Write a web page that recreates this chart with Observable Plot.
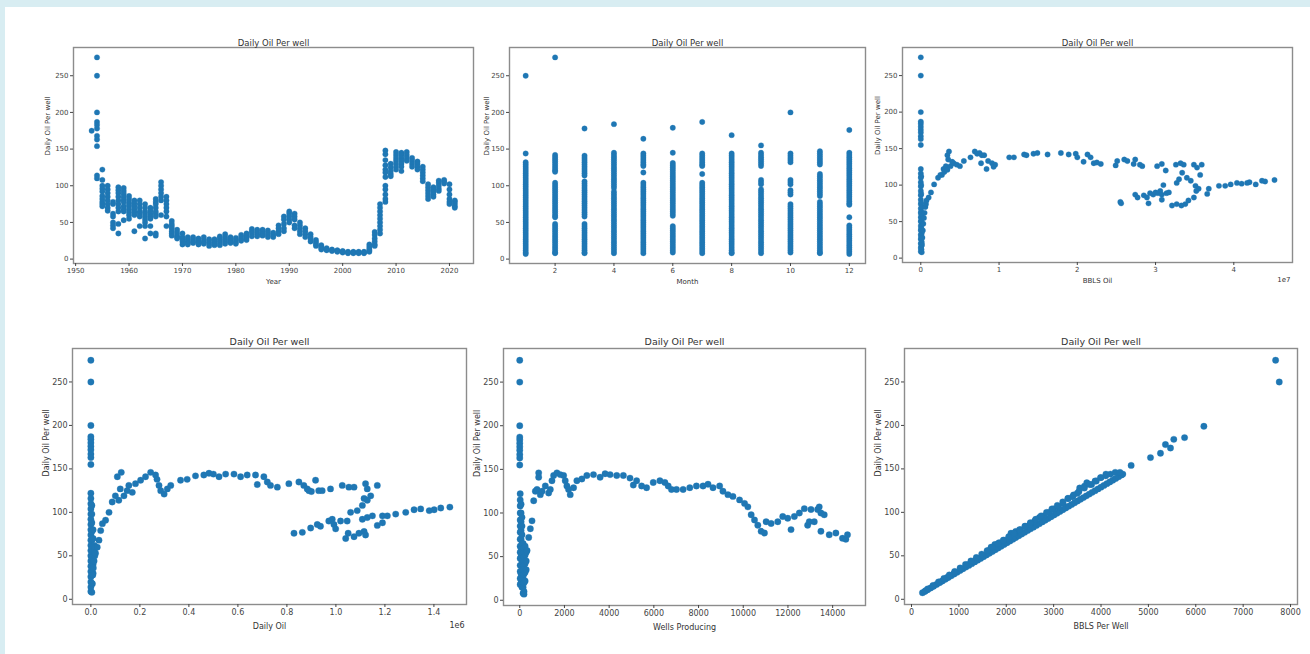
<!DOCTYPE html>
<html><head><meta charset="utf-8">
<script src="https://cdn.jsdelivr.net/npm/d3@7"></script>
<script src="https://cdn.jsdelivr.net/npm/@observablehq/plot@0.6"></script>
<style>
body{margin:0;background:#fff;width:1310px;height:654px;overflow:hidden;position:relative;font-family:"DejaVu Sans",sans-serif;}
#topbar{position:absolute;left:0;top:0;width:1310px;height:7px;background:#d8edf2;}
#leftbar{position:absolute;left:0;top:0;width:5px;height:654px;background:#d8edf2;}
</style></head><body>
<div id="topbar"></div><div id="leftbar"></div>
<script>
const TITLE = "Daily Oil Per well";
const Y_LABEL = "Daily Oil Per well";
const yTicks = [0, 50, 100, 150, 200, 250];

// Panel 1: Year vs daily oil per well
const p1Years = [1953,1954,1955,1956,1957,1958,1959,1960,1961,1962,1963,1964,1965,1966,1967,1968,1969,1970,1971,1972,1973,1974,1975,1976,1977,1978,1979,1980,1981,1982,1983,1984,1985,1986,1987,1988,1989,1990,1991,1992,1993,1994,1995,1996,1997,1998,1999,2000,2001,2002,2003,2004,2005,2006,2007,2008,2009,2010,2011,2012,2013,2014,2015,2016,2017,2018,2019,2020,2021];
const p1Values = [
 [175],
 [275,250,200,187,183,178,168,163,154,114,110],
 [122,108,100,96,92,86,82,78,75,72],
 [100,95,90,85,80,75,70,66],
 [78,75,62,58,50,46,42],
 [98,94,90,85,80,75,70,65,48,35],
 [97,93,89,85,81,78,72,68,65,53],
 [86,82,78,75,72,68,64,60,55],
 [80,76,72,68,64,60,38],
 [80,75,70,65,62,58,45],
 [75,70,65,62,58,54,50,45,28],
 [70,66,62,58,55,45,35],
 [82,78,75,70,65,62,58,35,32],
 [105,100,95,90,85,80,60],
 [85,80,75,70,65,58,45],
 [52,48,45,42,38,35,32],
 [40,36,32,30,28],
 [35,30,27,24,20],
 [30,27,24,22,20],
 [30,27,24,22],
 [28,25,22,20],
 [30,26,23,21],
 [27,24,21,18],
 [27,24,21,19],
 [31,28,25,22,19],
 [34,30,27,24,21],
 [30,27,24,22],
 [29,26,23,21],
 [33,30,27,25],
 [35,32,29,26],
 [41,38,35,31],
 [40,37,34,31],
 [40,37,34,32],
 [39,36,33,30],
 [36,33,30],
 [46,42,38,34],
 [58,54,48,42,38],
 [65,62,58,54,50],
 [62,58,54,46,42],
 [50,46,42,38,34],
 [42,38,34,30],
 [34,30,27,24],
 [26,23,20,18],
 [19,17,15,13],
 [15,13,12],
 [13,12,11],
 [12,11,10],
 [11,10,9],
 [10,9,8],
 [10,9,8],
 [10,9,8],
 [10,9,8],
 [20,17,14,12,10],
 [37,33,28,24,20,18],
 [75,70,65,60,55,50,45,40,35],
 [148,143,135,128,122,118,112,100,95,88,82,78],
 [130,125,120,116,113],
 [146,142,138,134,130,126,122],
 [145,142,138,134,130,126,120],
 [146,142,138,134],
 [138,134,130,126],
 [133,130,126,122],
 [126,122,118,114,110,106],
 [102,98,94,90,86,82],
 [98,95,92,88,85],
 [107,104,100,96,93],
 [108,106,103],
 [102,95,88,82,78,75],
 [80,78,75,72,70]
];

// Panel 2: Month vs daily oil per well
const p2Months = [1,2,3,4,5,6,7,8,9,10,11,12];
const p2Values = [
 [250,144,132,129,126,123,120,117,114,111,108,105,102,99,96,93,90,87,84,81,78,75,72,69,66,63,60,57,54,51,48,45,42,39,36,33,30,27,24,21,18,15,12,9,7],
 [275,142,139,136,133,130,127,124,121,119,104,101,98,95,92,89,86,83,80,77,74,71,68,65,62,59,57,48,45,42,39,36,33,30,27,24,21,18,15,12,9,8],
 [178,141,138,135,132,129,126,123,120,117,114,106,103,100,97,94,91,88,85,82,79,76,73,70,67,64,61,58,48,45,42,39,36,33,30,27,24,21,18,15,12,9,8],
 [184,145,142,139,136,133,130,127,124,121,118,115,112,109,106,103,100,97,92,89,86,83,80,77,74,71,68,65,62,59,56,53,50,47,44,41,38,35,32,29,26,23,20,17,14,11,8],
 [164,144,141,138,135,132,129,127,118,104,101,98,95,92,89,86,83,80,77,74,71,68,65,62,59,56,53,50,47,44,41,38,35,32,29,26,23,20,17,14,11,8],
 [179,145,131,128,125,122,119,116,113,110,107,104,101,98,95,92,89,86,83,80,77,74,71,68,65,62,59,45,42,39,36,33,30,27,24,21,18,15,12,9],
 [187,144,141,138,135,132,129,127,116,104,101,98,95,92,89,86,83,80,77,74,71,68,65,62,59,56,53,50,47,44,41,38,35,32,29,26,23,20,17,14,11,8],
 [169,144,141,138,135,132,129,126,123,120,117,114,111,108,105,102,99,96,93,90,87,84,81,78,75,72,69,66,63,60,57,54,51,48,45,42,39,36,33,30,27,24,21,18,15,12,9,8],
 [155,145,142,139,136,133,130,127,108,105,102,95,92,89,86,83,80,77,74,71,68,65,62,59,56,53,50,47,44,41,38,35,32,29,26,23,20,17,14,11,8],
 [200,144,141,138,135,132,108,105,102,94,91,88,75,72,69,66,63,60,57,54,51,48,45,42,39,36,33,30,27,24,21,18,15,12,9],
 [147,144,141,138,135,132,129,116,113,110,107,104,101,98,95,92,89,86,78,75,72,69,66,63,60,57,54,51,48,45,42,39,36,33,30,27,24,21,18,15,12,9,8],
 [176,145,142,139,136,133,130,127,124,121,118,115,112,109,106,103,100,97,94,91,88,85,82,79,76,74,57,46,43,40,37,34,31,28,25,22,19,16,13,10,7]
];

// Panel 3: BBLS Oil (x1e7) vs daily oil per well
const p3Points = [
 [0,275],[0,250],[0,200],[0,187],[0,184],[0,180],[0,176],[0,172],[0,167],[0,163],[0,155],
 [0,122],[0,116],[0,110],[0,104],[0,98],[0,92],[0,86],[0,80],[0,74],[0,68],[0,62],[0,56],[0,50],[0,44],[0,38],[0,32],[0,26],[0,20],[0,14],[0,9],
 [0.005,112],[0.005,100],[0.005,88],[0.005,76],[0.005,64],[0.005,52],[0.005,40],[0.005,28],[0.005,16],[0.012,70],[0.012,58],[0.012,46],[0.012,34],[0.012,22],
 [0.008,60],[0.008,50],[0.008,40],[0.008,30],[0.008,20],[0.008,12],[0.012,8],[0.015,18],[0.02,28],[0.026,38],[0.032,47],[0.04,55],[0.048,62],[0.058,70],[0.066,74],
 [0.073,79],[0.1,83],[0.13,90],[0.17,101],[0.22,110],[0.25,114],[0.29,122],[0.32,126],[0.35,135],[0.36,146],[0.34,141],[0.27,114],[0.3,118],[0.34,121],[0.38,126],[0.42,130],[0.4,132],[0.46,128],[0.5,126],[0.55,133],
 [0.635,138],[0.69,146],[0.72,143],[0.75,144],[0.78,141],[0.81,141],[0.77,130],[0.84,122],[0.86,133],[0.91,130],[0.95,128],[0.93,125],
 [1.13,138],[1.19,138],[1.32,142],[1.35,141],[1.44,143],[1.49,144],[1.62,142],[1.79,144],[1.89,142],[1.98,143],[2.0,138],[2.08,132],[2.13,142],[2.17,138],[2.21,130],[2.25,131],[2.3,129],
 [2.49,127],[2.51,133],[2.6,135],[2.64,133],[2.72,129],[2.74,135],[2.8,128],[2.83,126],
 [2.55,77],[2.56,75],[2.74,87],[2.77,83],[2.85,86],[2.89,83],[2.91,75],[2.93,89],[2.97,87],[3.0,90],[3.03,89],[3.06,92],[3.08,87],[3.1,100],[3.14,89],[3.17,90],[3.08,80],
 [3.02,126],[3.08,129],[3.13,120],[3.26,128],[3.32,130],[3.36,128],[3.34,117],[3.27,103],[3.3,108],
 [3.21,72],[3.27,74],[3.33,72],[3.38,74],[3.42,79],[3.49,83],[3.49,128],[3.53,124],[3.57,114],[3.45,106],[3.4,110],[3.51,99],[3.55,95],[3.52,92],[3.59,128],[3.66,88],[3.68,95],
 [3.81,99],[3.89,99],[3.96,101],[4.04,103],[4.1,102],[4.17,103],[4.2,104],[4.28,101],[4.36,106],[4.4,105],[4.52,107]
];

// Panel 4: Daily Oil (x1e6) vs daily oil per well
const p4Points = [
 [0,275],[0,250],[0,200],[0,187],[0,184],[0,180],[0,176],[0,172],[0,167],[0,163],[0,155],
 [0,122],[0,116],[0,110],[0,104],[0,98],[0,92],[0,86],[0,80],[0,74],[0,68],[0,62],[0,56],[0,50],[0,44],[0,38],[0,32],[0,26],[0,20],[0,14],[0,9],
 [0.004,108],[0.004,98],[0.004,88],[0.004,78],[0.004,68],[0.004,58],[0.004,48],[0.004,38],[0.004,28],[0.004,18],
 [0.009,80],[0.009,70],[0.009,60],[0.009,50],[0.009,40],[0.009,30],[0.014,62],[0.014,55],[0.018,60],
 [0.004,8],[0.006,18],[0.008,28],[0.01,36],[0.013,44],[0.016,50],[0.019,53],[0.026,60],[0.033,68],[0.04,79],[0.047,87],[0.06,91],[0.074,100],[0.087,112],[0.1,119],[0.12,127],
 [0.108,141],[0.124,146],[0.114,114],[0.135,119],[0.148,125],[0.155,131],[0.169,123],[0.182,133],[0.203,137],[0.223,141],[0.244,146],[0.264,143],[0.27,138],[0.278,131],[0.285,125],[0.299,121],[0.312,127],[0.326,131],
 [0.366,137],[0.393,138],[0.427,142],[0.461,143],[0.482,145],[0.5,144],[0.523,141],[0.55,144],[0.584,144],[0.611,141],[0.638,143],[0.672,143],[0.679,132],[0.706,141],[0.72,135],[0.733,131],[0.761,129],
 [0.808,133],[0.849,135],[0.869,131],[0.883,127],[0.89,125],[0.9,124],[0.917,137],[0.93,125],[0.944,125],[0.978,127],[1.026,131],[1.053,129],[1.074,129],[1.121,133],[1.128,127],[1.169,131],[1.142,119],[1.128,114],[1.108,108],[1.087,102],[1.115,116],
 [0.829,76],[0.863,77],[0.897,82],[0.924,86],[0.937,84],[0.971,90],[0.985,92],[0.992,86],[0.999,81],[1.019,90],[1.046,90],[1.06,100],[1.04,70],[1.05,76],[1.074,72],[1.094,76],[1.115,78],[1.121,74],
 [1.108,92],[1.128,94],[1.149,96],[1.169,85],[1.19,96],[1.19,88],[1.21,96],[1.244,98],[1.285,100],[1.319,103],[1.346,104],[1.381,102],[1.401,103],[1.428,105],[1.465,106]
];

// Panel 5: Wells Producing vs daily oil per well
const p5Points = [
 [0,275],[0,250],[0,200],[0,187],[0,184],[0,180],[0,176],[0,172],[0,167],[0,163],[0,155],
 [20,122],[20,115],[20,108],[20,100],[20,92],[20,85],[20,78],[20,70],[20,62],[20,55],[20,48],[20,40],[20,33],[20,25],[20,18],
 [60,110],[60,100],[60,90],[60,80],[60,70],[60,60],[60,50],[60,40],[60,30],[60,20],
 [100,95],[100,85],[100,75],[100,65],[100,55],[100,45],[100,35],[100,25],[100,15],
 [150,65],[150,55],[150,45],[150,35],[150,25],[150,15],[150,8],
 [190,60],[190,50],[190,40],[190,30],[190,20],[190,10],[190,7],
 [240,62],[240,52],[240,42],[240,32],[240,22],[290,55],[290,45],[290,35],
 [327,57],[401,72],[475,82],[549,91],[624,114],[698,125],[773,127],[847,141],[847,146],[921,121],[996,125],[1144,131],[1293,123],[1367,127],[1441,137],[1516,143],[1664,146],[1813,144],[1962,143],
 [2036,137],[2110,131],[2185,127],[2259,121],[2408,129],[2556,137],[2779,139],[3002,143],[3299,144],[3596,141],[3819,145],[4042,144],[4339,143],[4636,143],[4933,140],
 [5082,132],[5230,137],[5453,131],[5676,129],[5973,135],[6270,137],[6493,135],[6642,131],[6790,127],[7013,127],[7310,127],[7607,129],[7904,131],[8201,131],[8424,133],[8647,129],[8944,131],
 [9092,125],[9315,121],[9538,119],[9835,115],[10058,111],[10206,107],[10355,98],[10504,92],[10652,86],[10801,79],[10949,77],[11024,90],[11247,88],[11544,90],[11767,96],[11990,94],[12138,81],
 [12287,96],[12510,100],[12733,105],[12881,86],[12955,90],[13030,104],[13178,90],[13327,104],[13401,107],[13475,100],[13475,79],[13624,98],[13847,75],[14144,77],[14441,71],[14590,70],[14664,75]
];

// Panel 6: BBLS Per Well vs daily oil per well
const p6Points = [
 [232,7.5],[280,9],[341,11],[403,13],[465,15],[527,17],[589,19],[651,21],[713,23],[775,25],[837,27],[899,29],[961,31],[1023,33],[1085,35],[1147,37],[1209,39],[1271,41],[1333,43],[1395,45],
 [1457,47],[1519,49],[1581,51],[1643,53],[1705,55],[1767,57],[1829,59],[1891,61],[1953,63],[2015,65],[2077,67],[2139,69],[2201,71],[2263,73],[2325,75],[2387,77],[2449,79],[2511,81],[2573,83],
 [2635,85],[2697,87],[2759,89],[2821,91],[2883,93],[2945,95],[3007,97],[3069,99],[3131,101],[3193,103],[3255,105],[3317,107],[3379,109],[3441,111],[3503,113],[3565,115],[3627,117],[3689,119],
 [3751,121],[3813,123],[3875,125],[3937,127],[3999,129],[4061,131],[4123,133],[4185,135],[4247,137],[4309,139],[4371,141],[4433,143],[4460,144],
 [300,10],[450,15],[600,20],[750,25],[900,30],[1050,35],[1200,40],[1350,45],[1500,50],[1620,56],[1680,60],[1760,63],[1850,65],[1950,68],[2050,70],[2100,76],[2200,78],[2300,80],[2400,84],
 [2500,86],[2600,90],[2700,94],[2800,96],[2900,100],[3000,104],[3100,106],[3200,110],[3300,116],[3400,118],[3500,122],[3550,128],[3650,130],[3700,134],[3800,132],[3900,136],[4000,140],[4100,142],[4200,144],[4300,146],[4400,146],
 [342,12],[456,16],[570,20],[684,24],[798,28],[912,32],[1026,36],[1140,40],[1254,44],[1368,48],[1482,52],[1596,56],[1710,60],[1824,64],[1938,68],[2052,72],[2166,76],[2280,80],[2394,84],
 [2508,88],[2622,92],[2736,96],[2850,100],[2964,104],[3078,108],[3192,112],[3306,116],[3420,120],[3534,124],[3648,128],[3762,132],[3876,136],[3990,140],[4104,144],
 [4636,154],[5044,163],[5255,168],[5360,178],[5466,174],[5536,184],[5763,186],[6171,199],[7685,275],[7762,250]
];

const p1Data = p1Years.flatMap((yr, i) => p1Values[i].map(v => ({x: yr, y: v})));
const p2Data = p2Months.flatMap((m, i) => p2Values[i].map(v => ({x: m, y: v})));
const toRows = pts => pts.map(([x, y]) => ({x, y}));

function panel(o) {
  const [fl, ft, fr, fb] = o.frame;
  const mL = 50, mT = 24, mR = 16, mB = 36;
  const w = fr - fl + mL + mR, h = fb - ft + mT + mB;
  const fs = o.fs;
  const marks = [
    Plot.frame({stroke: "#8c8c8c", strokeWidth: 1.4}),
    Plot.axisX({ticks: o.xTicks, tickFormat: o.xFmt, tickSize: 3, tickPadding: 2, fontSize: fs, label: null, color: "#444"}),
    Plot.axisY({ticks: yTicks, tickFormat: d => String(d), tickSize: 3, tickPadding: 2, fontSize: fs, label: null, color: "#444"}),
    Plot.dot(o.data, {x: "x", y: "y", r: o.r, fill: "#1f77b4", stroke: "#1f77b4", strokeWidth: 0.3}),
    Plot.text([TITLE], {frameAnchor: "top", dy: o.titleDy, fontSize: o.tfs, fill: "#333"}),
    Plot.text([o.xLabel], {frameAnchor: "bottom", dy: o.xlDy, fontSize: o.lfs, fill: "#333"}),
    Plot.text([Y_LABEL], {frameAnchor: "left", rotate: -90, dx: -o.ylDx, fontSize: o.lfs, fill: "#333"})
  ];
  if (o.offset) marks.push(Plot.text([o.offset], {frameAnchor: "bottom-right", dy: o.offDy, dx: -2, textAnchor: "end", fontSize: o.fs, fill: "#333"}));
  const svg = Plot.plot({
    width: w, height: h, marginLeft: mL, marginTop: mT, marginRight: mR, marginBottom: mB,
    x: {domain: o.xDomain},
    y: {domain: [-6, 288.5]},
    style: {background: "transparent", overflow: "visible", fontFamily: "DejaVu Sans, sans-serif", fontSize: fs + "px", maxWidth: "none"},
    marks
  });
  svg.style.position = "absolute";
  svg.style.left = (fl - mL) + "px";
  svg.style.top = (ft - mT) + "px";
  document.body.appendChild(svg);
}

const topCfg = {fs: 7, tfs: 8.5, lfs: 7, r: 2.7, titleDy: -8, xlDy: 20};
const botCfg = {fs: 8, tfs: 9.5, lfs: 8, r: 3.2, titleDy: -10, xlDy: 24};

panel({...topCfg, frame: [73, 47, 473, 263], data: p1Data, xDomain: [1949.6, 2024.5], xTicks: [1950,1960,1970,1980,1990,2000,2010,2020], xFmt: d => String(d), xLabel: "Year", ylDx: 26});
panel({...topCfg, frame: [509, 47, 865, 263], data: p2Data, xDomain: [0.45, 12.55], xTicks: [2,4,6,8,10,12], xFmt: d => String(d), xLabel: "Month", ylDx: 23});
panel({...topCfg, frame: [902, 47, 1292, 262], data: toRows(p3Points), xDomain: [-0.234, 4.75], xTicks: [0,1,2,3,4], xFmt: d => String(d), xLabel: "BBLS Oil", ylDx: 25, offset: "1e7", offDy: 19});
panel({...botCfg, frame: [72, 348, 466, 604], data: toRows(p4Points), xDomain: [-0.075, 1.533], xTicks: [0,0.2,0.4,0.6,0.8,1.0,1.2,1.4], xFmt: d3.format(".1f"), xLabel: "Daily Oil", ylDx: 26, offset: "1e6", offDy: 23});
panel({...botCfg, frame: [503, 348, 865, 605], data: toRows(p5Points), xDomain: [-727, 15470], xTicks: [0,2000,4000,6000,8000,10000,12000,14000], xFmt: d => String(d), xLabel: "Wells Producing", ylDx: 26});
panel({...botCfg, frame: [904, 348, 1297, 604], data: toRows(p6Points), xDomain: [-148, 8147], xTicks: [0,1000,2000,3000,4000,5000,6000,7000,8000], xFmt: d => String(d), xLabel: "BBLS Per Well", ylDx: 26});
</script>
</body></html>
